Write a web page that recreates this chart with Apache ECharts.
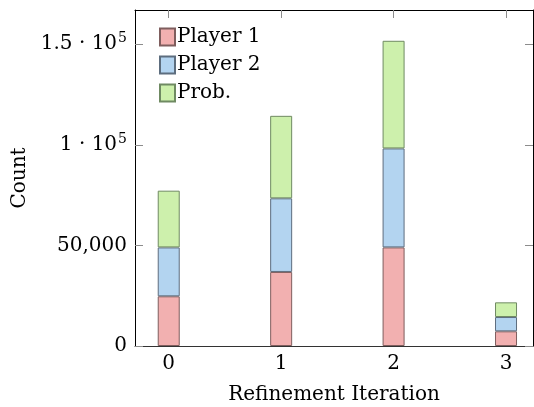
<!DOCTYPE html>
<html>
<head>
<meta charset="utf-8">
<script src="https://cdn.jsdelivr.net/npm/echarts@6/dist/echarts.min.js"></script>
<style>
  html, body { margin: 0; padding: 0; background: #fff; }
  #chart { width: 534px; height: 407px; }
</style>
</head>
<body>
<div id="chart"></div>
<script>
// Refinement iterations on the x axis
const iterations = [0, 1, 2, 3];
// Stacked counts per iteration
const player1 = [24700, 36800, 49000, 7300];
const player2 = [24300, 36600, 49200, 7100];
const prob    = [28200, 41000, 53500, 7300];
const seriesNames = ['Player 1', 'Player 2', 'Prob.'];
// y tick values
const yTicks = [0, 50000, 100000, 150000];

const FONT = '"DejaVu Serif", "Liberation Serif", serif';
const FS = 20;

const fills   = ['#f2b0b0', '#b3d4f0', '#cdf0ac'];
const borders = ['#7f5e5e', '#5d6d7e', '#6f8a62'];

// plot frame (pixels) and x range of the frame
const W = 534, H = 407;
const plotLeft = 135, plotRight = 533, plotTop = 10, plotBottom = 346;
const xMin = -0.3, xMax = 3.24, yMax = 167000;

// inner grid spanning first to last iteration, used by the bars
const xScale = (plotRight - plotLeft) / (xMax - xMin);
const barLeft = plotLeft + (iterations[0] - xMin) * xScale;
const barRight = plotLeft + (iterations[iterations.length - 1] - xMin) * xScale;

function yLabel(v) {
  if (v === 0) return '0';
  if (v === 50000) return '50,000';
  const m = v / 100000;
  return '{b|' + m + ' · 10}{s|5}';
}

const chart = echarts.init(document.getElementById('chart'), null, { renderer: 'canvas' });

const tickStyle = { color: '#8c8c8c', width: 1 };
const frameLine = { show: true, onZero: false, lineStyle: { color: '#000', width: 1 } };

chart.setOption({
  animation: false,
  backgroundColor: '#fff',
  textStyle: { fontFamily: FONT },
  grid: [
    { left: plotLeft, right: W - plotRight, top: plotTop, bottom: H - plotBottom, outerBoundsMode: 'none', containLabel: false },
    { left: barLeft, right: W - barRight, top: plotTop, bottom: H - plotBottom, outerBoundsMode: 'none', containLabel: false }
  ],
  legend: {
    orient: 'vertical',
    left: 154,
    top: 22,
    itemWidth: 15,
    itemHeight: 17,
    itemGap: 8,
    icon: 'rect',
    data: seriesNames,
    textStyle: { fontFamily: FONT, fontSize: FS, color: '#000', padding: [0, 0, 0, -3] }
  },
  xAxis: [
    {
      gridIndex: 0,
      type: 'value',
      min: xMin,
      max: xMax,
      position: 'bottom',
      axisLine: { show: true, onZero: false, lineStyle: { color: '#333', width: 1 } },
      axisTick: { show: true, inside: true, length: 8, lineStyle: tickStyle, customValues: iterations },
      axisLabel: { show: true, customValues: iterations, fontFamily: FONT, fontSize: FS, color: '#000', margin: 8 },
      splitLine: { show: false },
      name: 'Refinement Iteration',
      nameLocation: 'middle',
      nameGap: 39,
      nameTextStyle: { fontFamily: FONT, fontSize: FS, color: '#000' }
    },
    {
      gridIndex: 0,
      type: 'value',
      min: xMin,
      max: xMax,
      position: 'top',
      axisLine: frameLine,
      axisTick: { show: true, inside: true, length: 8, lineStyle: tickStyle, customValues: iterations },
      axisLabel: { show: false },
      splitLine: { show: false }
    },
    {
      gridIndex: 1,
      type: 'category',
      data: iterations,
      boundaryGap: false,
      show: false
    }
  ],
  yAxis: [
    {
      gridIndex: 0,
      type: 'value',
      min: 0,
      max: yMax,
      position: 'left',
      axisLine: frameLine,
      axisTick: { show: true, inside: true, length: 8, lineStyle: tickStyle, customValues: yTicks },
      axisLabel: {
        show: true,
        customValues: yTicks,
        margin: 8,
        fontFamily: FONT,
        fontSize: FS,
        color: '#000',
        formatter: yLabel,
        rich: {
          b: { fontFamily: FONT, fontSize: FS, color: '#000' },
          s: { fontFamily: FONT, fontSize: 14, color: '#000', padding: [0, 0, 11, 1] }
        }
      },
      splitLine: { show: false },
      name: 'Count',
      nameLocation: 'middle',
      nameGap: 104,
      nameTextStyle: { fontFamily: FONT, fontSize: FS, color: '#000' }
    },
    {
      gridIndex: 0,
      type: 'value',
      min: 0,
      max: yMax,
      position: 'right',
      axisLine: frameLine,
      axisTick: { show: true, inside: true, length: 8, lineStyle: tickStyle, customValues: yTicks },
      axisLabel: { show: false },
      splitLine: { show: false }
    },
    {
      gridIndex: 1,
      type: 'value',
      min: 0,
      max: yMax,
      show: false
    }
  ],
  series: [player1, player2, prob].map((vals, i) => ({
    name: seriesNames[i],
    type: 'bar',
    stack: 'total',
    xAxisIndex: 2,
    yAxisIndex: 2,
    barWidth: 22,
    data: vals,
    itemStyle: { color: fills[i], borderColor: borders[i], borderWidth: 1 }
  }))
});
</script>
</body>
</html>
